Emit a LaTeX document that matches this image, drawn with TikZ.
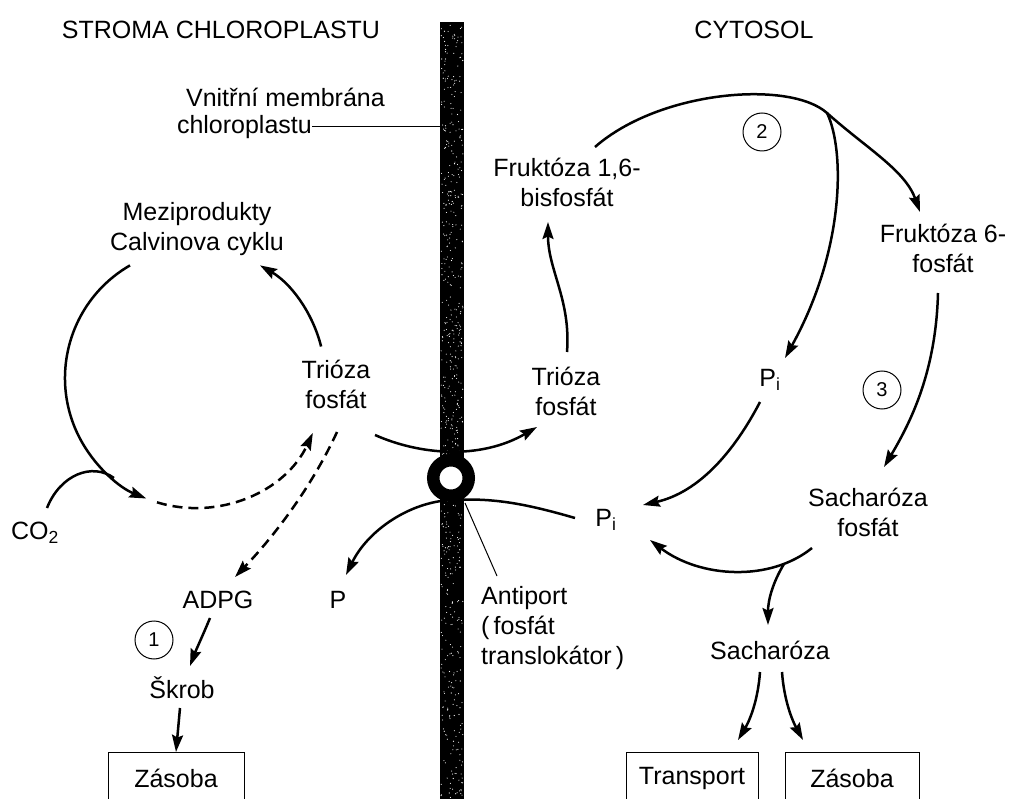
\documentclass[tikz,border=0pt]{standalone}
\usepackage{fontspec}
\setmainfont{Liberation Sans}
\usetikzlibrary{arrows.meta}
\begin{document}
\begin{tikzpicture}[x=1pt,y=-1pt,
  lbl/.style={font=\fontsize{25}{30}\selectfont, inner sep=0pt, align=center},
  num/.style={circle, draw, line width=1pt, minimum size=38pt, inner sep=0pt, font=\fontsize{20}{24}\selectfont},
  flow/.style={line width=2.5pt, -{Stealth[length=17pt,width=11pt,inset=2.5pt]}},
  dflow/.style={flow, dash pattern=on 10pt off 6pt},
  plain/.style={line width=2.5pt},
  lead/.style={line width=1pt},
  store/.style={draw, line width=1pt, minimum height=52pt, inner sep=0pt, anchor=north,
                font=\fontsize{25}{30}\selectfont}
]
\useasboundingbox (0,0) rectangle (1012,799);
\clip (0,0) rectangle (1012,799);
\fill[white] (0,0) rectangle (1012,799);

% membrane with stippled texture
\fill[black] (440,22) rectangle (464,805);
\pgfmathsetseed{11}
\foreach \k in {1,...,600}{\fill[white] ({441+22*rnd},{24+775*rnd}) circle (0.55);}
\coordinate (barL) at (440,127);

% headings and labels
\node[lbl] (title1) at (221,30) {STROMA CHLOROPLASTU};
\node[lbl] (title2) at (754,30) {CYTOSOL};
\node[lbl, anchor=east] (membA) at (385,97) {Vnitřní membrána};
\node[lbl, anchor=east] (membB) at (312,127) {chloroplastu};
\draw[lead] (membB.east) -- (barL);

\node[lbl] (mezi) at (197,229) {Meziprodukty\\Calvinova cyklu};
\node[lbl] (triL) at (336,384) {Trióza\\fosfát};
\node[lbl] (triR) at (566,391) {Trióza\\fosfát};
\node[lbl] (fbp) at (567,182) {Fruktóza 1,6-\\bisfosfát};
\node[lbl] (f6p) at (943,248) {Fruktóza 6-\\fosfát};
\node[lbl] (pi1) at (770,380) {P\textsubscript{i}};
\node[lbl] (pi2) at (606,520) {P\textsubscript{i}};
\node[lbl] (pp) at (338,600) {P};
\node[lbl] (sfos) at (868,512) {Sacharóza\\fosfát};
\node[lbl] (sach) at (770,650) {Sacharóza};
\node[lbl] (adpg) at (218,600) {ADPG};
\node[lbl] (skrob) at (182,688) {Škrob};
\node[lbl] (co2) at (35,533) {CO\textsubscript{2}};
\node[lbl, align=left, anchor=north west] (anti) at (481,586) {Antiport\\(\,fosfát\\translokátor\,)};

\node[num] (n1) at (154,640) {1};
\node[num] (n2) at (762,132) {2};
\node[num] (n3) at (882,390) {3};

\node[store, minimum width=136pt] (zasL) at (176,752) {Zásoba};
\node[store, minimum width=132pt] (trans) at (692,752) {Transport};
\node[store, minimum width=134pt] (zasR) at (852,752) {Zásoba};

% Calvin cycle
\coordinate (cyc1) at (130,265.4);
\coordinate (cyc2) at (157,502.3);
\coordinate (cyc3) at (321.1,346.5);
\draw[flow] (cyc1) arc[start angle=-120, end angle=-248, radius=130];
\draw[flow] (cyc3) arc[start angle=-14, end angle=-60, radius=130];
\draw[dflow] (cyc2) arc[start angle=-253, end angle=-335, radius=130];

\coordinate (co2out) at (47,508);
\coordinate (merge) at (114,478);
\draw[plain] (co2out) .. controls (60,475) and (92,462) .. (merge);

% starch branch
\coordinate (triLout) at (337,432);
\coordinate (adpgin) at (235,577);
\draw[dflow] (triLout) .. controls (315,480) and (280,530) .. (adpgin);
\coordinate (adpgout) at (210,618);
\coordinate (skrobin) at (190,666);
\draw[flow] (adpgout) .. controls (203,635) and (196,650) .. (skrobin);
\coordinate (skrobout) at (180,708);
\draw[flow] (skrobout) -- (zasL.north);

% antiport
\coordinate (tpin) at (375,435);
\coordinate (tpout) at (537,427);
\draw[flow] (tpin) .. controls (420,455) and (480,460) .. (tpout);
\coordinate (piin) at (575,518);
\coordinate (ringB) at (451,500);
\coordinate (pout) at (346,575);
\draw[flow] (piin) .. controls (520,502) and (490,498) .. (ringB)
  .. controls (410,502) and (368,530) .. (pout);
\node[circle, fill=white, draw=black, line width=12.5pt, minimum size=35.5pt, inner sep=0pt] (ring) at (451,478) {};
\coordinate (antiTip) at (497,576);
\draw[lead] (465,503) -- (antiTip);

% cytosol pathway
\coordinate (triRout) at (567,352);
\coordinate (fbpin) at (548,222);
\draw[flow] (triRout) .. controls (571,300) and (548,270) .. (fbpin);
\coordinate (fbpout) at (595,147);
\coordinate (br) at (827,113);
\coordinate (f6pin) at (920,212);
\draw[flow] (fbpout) .. controls (660,90) and (790,80) .. (br)
  .. controls (866,148) and (905,170) .. (f6pin);
\coordinate (pi1in) at (785,358);
\draw[flow] (br) .. controls (845,150) and (845,250) .. (pi1in);
\coordinate (pi1out) at (760,402);
\coordinate (pi2in) at (643,505);
\draw[flow] (pi1out) .. controls (735,450) and (700,492) .. (pi2in);
\coordinate (f6pout) at (938,293);
\coordinate (sfosin) at (884,467);
\draw[flow] (f6pout) .. controls (936,370) and (912,420) .. (sfosin);
\coordinate (sfosout) at (812,548);
\coordinate (pi2in2) at (650,540);
\draw[flow] (sfosout) .. controls (770,582) and (700,578) .. (pi2in2);
\coordinate (br2) at (784,564);
\coordinate (sachin) at (768,625);
\draw[flow] (br2) .. controls (773,582) and (768,600) .. (sachin);
\coordinate (sachL) at (760,672);
\coordinate (sachR) at (782,672);
\draw[flow] (sachL) .. controls (758,700) and (750,720) .. (738,740) coordinate (transin);
\draw[flow] (sachR) .. controls (784,700) and (792,720) .. (803,740) coordinate (zasRin);
\end{tikzpicture}
\end{document}
